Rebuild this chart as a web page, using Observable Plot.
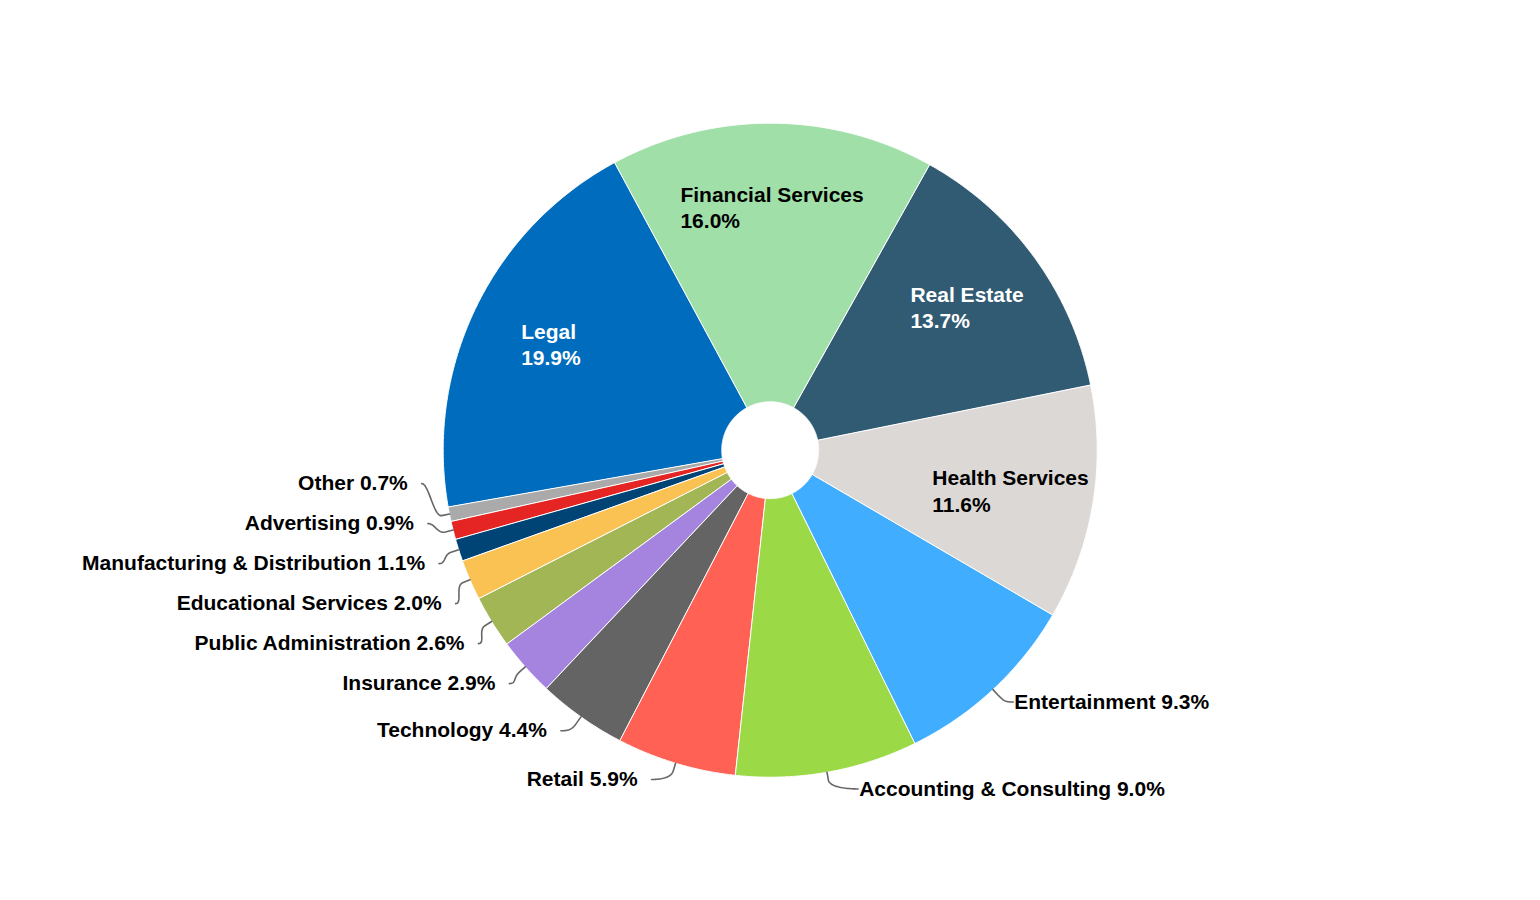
<!DOCTYPE html>
<html>
<head>
<meta charset="utf-8">
<script src="https://cdn.jsdelivr.net/npm/d3@7"></script>
<script src="https://cdn.jsdelivr.net/npm/@observablehq/plot@0.6"></script>
<style>
  html, body { margin: 0; padding: 0; background: #ffffff; }
  #chart { width: 1540px; height: 900px; }
</style>
</head>
<body>
<div id="chart"></div>
<script>
// ---- data ----
const categories = [
  "Legal", "Financial Services", "Real Estate", "Health Services", "Entertainment",
  "Accounting & Consulting", "Retail", "Technology", "Insurance", "Public Administration",
  "Educational Services", "Manufacturing & Distribution", "Advertising", "Other"
];
const shares = [19.9, 16.0, 13.7, 11.6, 9.3, 9.0, 5.9, 4.4, 2.9, 2.6, 2.0, 1.1, 0.9, 0.7];
const sliceColors = [
  "#006cbd", "#a0e0a8", "#315a73", "#dcd8d6", "#41adff",
  "#9cd946", "#ff6155", "#646464", "#a484de", "#a2b655",
  "#f9c253", "#004475", "#e52424", "#aaaaaa"
];
const insideLabels = ["Legal", "Financial Services", "Real Estate", "Health Services"];
const whiteLabels = ["Legal", "Real Estate"];

// ---- geometry (pixels) ----
const W = 1540, H = 900;
const CX = 769.7, CY = 449.7, R = 327, R0 = 48.5;
const START = -100 * Math.PI / 180;
const LABEL_RY = R + 17;   // radius used for the natural label height
const LABEL_RX = R + 23;   // radius used for the label's horizontal anchor
const GAP = 40;
const FONT = "'Liberation Sans', Arial, Helvetica, sans-serif";
const FS = 21;

const rows = categories.map((name, i) => ({name, share: shares[i], color: sliceColors[i]}));
const arcs = d3.pie().sort(null).value(d => d.share).startAngle(START).endAngle(START + 2 * Math.PI)(rows);

// unit coordinates: radius R = 1, y up
const ux = px => (px - CX) / R;
const uy = py => (CY - py) / R;

// slice polygons
const polys = [];
for (const a of arcs) {
  const n = Math.max(3, Math.ceil((a.endAngle - a.startAngle) / 0.004));
  for (let k = 0; k <= n; k++) {
    const t = a.startAngle + (a.endAngle - a.startAngle) * k / n;
    polys.push({name: a.data.name, x: Math.sin(t), y: Math.cos(t)});
  }
  const ri = R0 / R;
  for (let k = n; k >= 0; k--) {
    const t = a.startAngle + (a.endAngle - a.startAngle) * k / n;
    polys.push({name: a.data.name, x: ri * Math.sin(t), y: ri * Math.cos(t)});
  }
}

// text measurement
const ctx = document.createElement("canvas").getContext("2d");
ctx.font = `bold ${FS}px ${FONT}`;
const tw = s => ctx.measureText(s).width;

// inside labels
const inside = arcs.filter(a => insideLabels.includes(a.data.name)).map(a => {
  const mid = (a.startAngle + a.endAngle) / 2;
  const pct = a.data.share.toFixed(1) + "%";
  const bw = Math.max(tw(a.data.name), tw(pct));
  const r = 0.745;
  return {
    name: a.data.name,
    text: a.data.name + "\n" + pct,
    x: r * Math.sin(mid) - bw / 2 / R,
    y: r * Math.cos(mid),
    white: whiteLabels.includes(a.data.name)
  };
});

// outside labels with simple distribution per side
const outside = arcs.filter(a => !insideLabels.includes(a.data.name)).map(a => {
  const mid = (a.startAngle + a.endAngle) / 2;
  return {
    name: a.data.name,
    text: a.data.name + " " + a.data.share.toFixed(1) + "%",
    mid,
    left: Math.sin(mid) < 0,
    ny: CY - LABEL_RY * Math.cos(mid)
  };
});

function distribute(items) {
  items.sort((a, b) => a.ny - b.ny);
  let clusters = items.map(d => [d]);
  const place = c => {
    const m = d3.mean(c, d => d.ny);
    return c.map((d, i) => m + (i - (c.length - 1) / 2) * GAP);
  };
  let changed = true;
  while (changed) {
    changed = false;
    for (let i = 0; i < clusters.length - 1; i++) {
      const pa = place(clusters[i]), pb = place(clusters[i + 1]);
      if (pb[0] - pa[pa.length - 1] < GAP) {
        clusters.splice(i, 2, clusters[i].concat(clusters[i + 1]));
        changed = true;
        break;
      }
    }
  }
  for (const c of clusters) {
    const p = place(c);
    c.forEach((d, i) => { d.py = p[i]; });
  }
}
distribute(outside.filter(d => d.left));
distribute(outside.filter(d => !d.left));

const connectors = [];
for (const d of outside) {
  const dy = Math.min(Math.abs(d.py - CY), LABEL_RX - 1);
  const s = d.left ? -1 : 1;
  d.px = CX + s * Math.sqrt(LABEL_RX * LABEL_RX - dy * dy);
  d.tx = ux(d.px + s * (d.left ? 14 : 1));
  d.ty = uy(d.py);
  // soft connector: label point -> break point (R+8) -> slice edge (R)
  const T = [CX + R * Math.sin(d.mid), CY - R * Math.cos(d.mid)];
  const B = [CX + (R + 8) * Math.sin(d.mid), CY - (R + 8) * Math.cos(d.mid)];
  const P0 = [d.px, d.py], P1 = [d.px - s * 7, d.py], P2 = [2 * B[0] - T[0], 2 * B[1] - T[1]], P3 = B;
  for (let k = 0; k <= 24; k++) {
    const t = k / 24, u = 1 - t;
    const X = u*u*u*P0[0] + 3*u*u*t*P1[0] + 3*u*t*t*P2[0] + t*t*t*P3[0];
    const Y = u*u*u*P0[1] + 3*u*u*t*P1[1] + 3*u*t*t*P2[1] + t*t*t*P3[1];
    connectors.push({name: d.name, x: ux(X), y: uy(Y)});
  }
  connectors.push({name: d.name, x: ux(T[0]), y: uy(T[1])});
}

const textStyle = {fontFamily: FONT, fontWeight: "bold", fontSize: FS};

const chart = Plot.plot({
  width: W,
  height: H,
  margin: 0,
  style: {background: "#ffffff", fontFamily: FONT},
  x: {domain: [-1, 1], range: [CX - R, CX + R], axis: null},
  y: {domain: [-1, 1], range: [CY + R, CY - R], axis: null},
  color: {domain: categories, range: sliceColors, legend: false},
  marks: [
    Plot.line(polys, {x: "x", y: "y", z: "name", fill: "name", stroke: "#ffffff", strokeWidth: 1, strokeLinejoin: "round", curve: "linear-closed"}),
    Plot.line(connectors, {x: "x", y: "y", z: "name", stroke: "#666666", strokeWidth: 1.6, fill: "none", curve: "linear"}),
    Plot.text(outside.filter(d => d.left), {x: "tx", y: "ty", text: "text", textAnchor: "end", fill: "#000000", ...textStyle}),
    Plot.text(outside.filter(d => !d.left), {x: "tx", y: "ty", text: "text", textAnchor: "start", fill: "#000000", ...textStyle}),
    Plot.text(inside.filter(d => d.white), {x: "x", y: "y", text: "text", textAnchor: "start", lineAnchor: "middle", lineHeight: 1.24, fill: "#ffffff", ...textStyle}),
    Plot.text(inside.filter(d => !d.white), {x: "x", y: "y", text: "text", textAnchor: "start", lineAnchor: "middle", lineHeight: 1.24, fill: "#000000", ...textStyle})
  ]
});
document.getElementById("chart").appendChild(chart);
</script>
</body>
</html>
